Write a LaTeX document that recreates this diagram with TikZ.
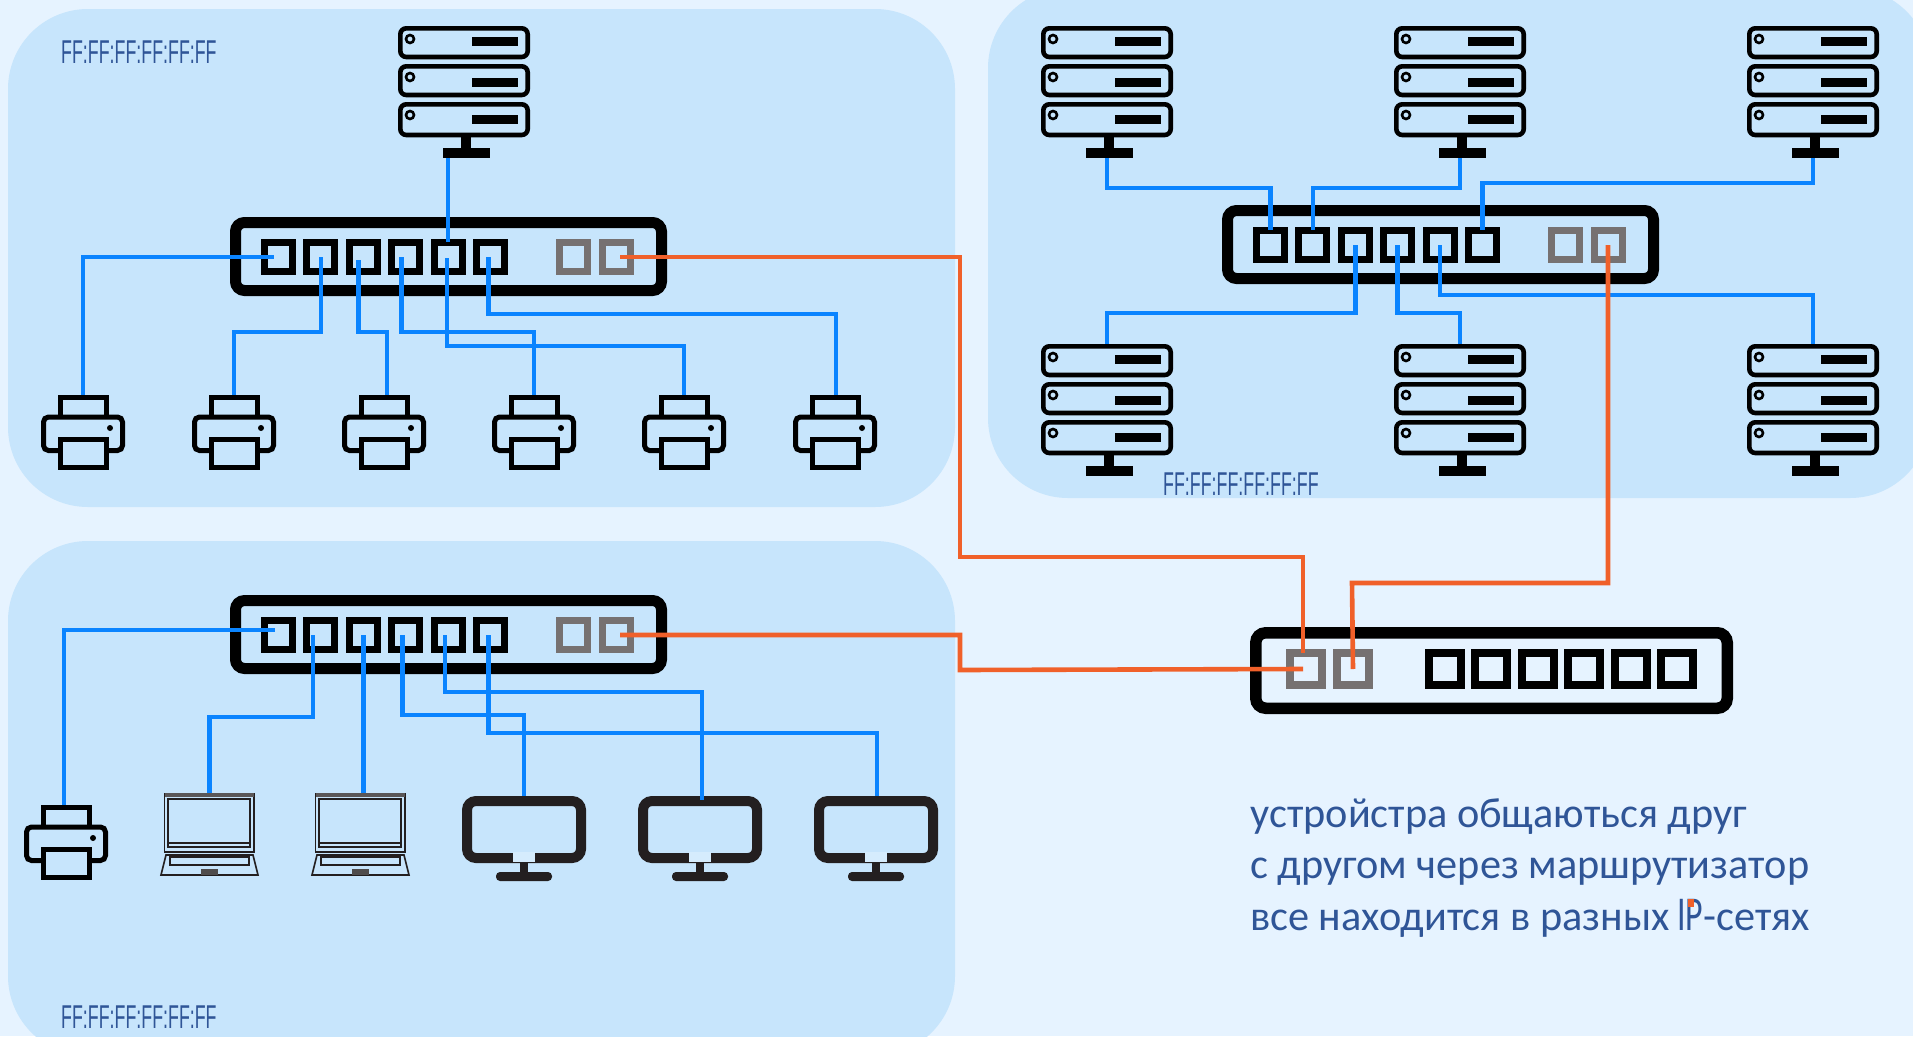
\documentclass[tikz,border=0pt]{standalone}
\usepackage{graphicx}
\usepackage{fontspec}
\setmainfont{Carlito}
\newfontfamily\macfont{Liberation Sans}
\usetikzlibrary{calc}
\definecolor{pagebg}{HTML}{E6F3FF}
\definecolor{panelbg}{HTML}{C7E5FC}
\definecolor{bluewire}{HTML}{0A84FF}
\definecolor{orangewire}{HTML}{F0602A}
\definecolor{portgray}{HTML}{767171}
\definecolor{textblue}{HTML}{2F5597}
\definecolor{dark}{HTML}{231F20}
\tikzset{
 x=1pt,y=-1pt,
 panel/.style={fill=panelbg,draw=none,rounded corners=80pt},
 devbox/.style={inner sep=0pt,outer sep=0pt,draw=none,fill=none,rectangle},
 port/.style={rectangle,draw=black,line width=7pt,inner sep=0pt,outer sep=0pt,minimum width=28pt,minimum height=29pt},
 gport/.style={port,draw=portgray},
 rport/.style={port,line width=8pt,minimum width=32pt,minimum height=32pt},
 rgport/.style={rport,draw=portgray},
 bw/.style={draw=bluewire,line width=4.6pt},
 ow/.style={draw=orangewire,line width=4.6pt},
 maclabel/.style={inner sep=0pt,text=textblue,anchor=base west,font=\macfont\fontsize{33}{33}\selectfont},
 bodytext/.style={inner sep=0pt,text=textblue,anchor=base west,font=\fontsize{42.3}{42.3}\selectfont},
 server/.pic={
  \node[devbox,minimum width=132pt,minimum height=132pt] (-box) at (66,66) {};
  \foreach \ty/\by in {0/11,38/52,76/89}{
   \draw[line width=4.6pt,rounded corners=6pt] (2.3,{\ty+2.3}) rectangle (129.7,{\ty+31+(\ty==76?2:0)});
   \draw[line width=2.6pt] (12,{\ty+13}) circle[radius=4];
   \fill (74,\by) rectangle (120,{\by+8.5});
  }
  \fill (63,109) rectangle (73,122);
  \fill (45,122) rectangle (92,132);
 },
 printer/.pic={
  \node[devbox,minimum width=84pt,minimum height=75pt] (-box) at (42,37.5) {};
  \draw[line width=5pt] (19,22) |- (65,2.5) -- (65,22);
  \draw[line width=5pt,rounded corners=5pt] (19,55.5) -- (2.5,55.5) -- (2.5,22) -- (81.5,22) -- (81.5,55.5) -- (65,55.5);
  \draw[line width=5pt] (19,44) rectangle (65,72.5);
  \fill (69,33) circle[radius=3];
 },
 laptop/.pic={
  \node[devbox,minimum width=99pt,minimum height=83pt] (-box) at (49.5,41.5) {};
  \draw[dark,line width=1.8pt] (4.5,0.8) rectangle (94,59);
  \draw[dark,line width=1.8pt] (8,6) rectangle (90,54);
  \draw[dark,line width=1.2pt] (8,50) -- (90,50);
  \fill[dark!75] (4.5,0) rectangle (94,4);
  \draw[dark,line width=1.6pt] (6,62) -- (1,82) -- (98,82) -- (93,62) -- cycle;
  \draw[dark,line width=1.4pt] (10,64) rectangle (89,72);
  \fill[dark!80] (41,76) rectangle (58,82);
 },
 monitor/.pic={
  \node[devbox,minimum width=124pt,minimum height=85pt] (-box) at (62,42.5) {};
  \draw[dark,line width=10pt,rounded corners=9pt] (5,5) rectangle (119,62);
  \fill[panelbg!75!white] (51,56) rectangle (73,66);
  \fill[dark] (58,67) rectangle (66,78);
  \fill[dark,rounded corners=4pt] (34,76) rectangle (90,85);
 },
 netswitch/.pic={
  \node[devbox,minimum width=437pt,minimum height=79pt] (-box) at (218.5,39.5) {};
  \draw[line width=11pt,rounded corners=9pt] (5.5,5.5) rectangle (431.5,73.5);
  \foreach \i in {1,...,6}{\node[port] (-p\i) at ({48.5+42.4*(\i-1)},40) {};}
  \node[gport] (-g1) at (343.5,40) {};
  \node[gport] (-g2) at (386,40) {};
 }
}
\begin{document}
\begin{tikzpicture}
\useasboundingbox (0,0) rectangle (1913,1036);
\fill[pagebg] (0,0) rectangle (1913,1036);
\begin{scope}
\clip (0,0) rectangle (1913,1036);
\fill[panel] (8,9) rectangle (955,507);
\fill[panel] (988,-12) rectangle (1930,498);
\fill[panel] (8,541) rectangle (955,1056);
\end{scope}

\pic (srvA) at (398,26) {server};
\pic (srvB1) at (1041,26) {server};
\pic (srvB2) at (1394,26) {server};
\pic (srvB3) at (1747,26) {server};
\pic (srvB4) at (1041,344) {server};
\pic (srvB5) at (1394,344) {server};
\pic (srvB6) at (1747,344) {server};

\pic (prA1) at (41,395) {printer};
\pic (prA2) at (192,395) {printer};
\pic (prA3) at (342,395) {printer};
\pic (prA4) at (492,395) {printer};
\pic (prA5) at (642,395) {printer};
\pic (prA6) at (793,395) {printer};
\pic (prC1) at (24,805) {printer};
\pic (lapC1) at (160,793) {laptop};
\pic (lapC2) at (311,793) {laptop};
\pic (monC1) at (462,796) {monitor};
\pic (monC2) at (638,796) {monitor};
\pic (monC3) at (814,796) {monitor};

\pic (swA) at (230,217) {netswitch};
\pic (swB) at (1222,205) {netswitch};
\pic (swC) at (230,595) {netswitch};

% router
\node[devbox,minimum width=483pt,minimum height=87pt] (router) at (1491.5,670.5) {};
\draw[line width=11.5pt,rounded corners=10pt] (1255.75,632.75) rectangle (1727.25,708.25);
\node[rgport] (rg1) at (1306,669) {};
\node[rgport] (rg2) at (1353,669) {};
\foreach \i in {1,...,6}{\node[rport] (rp\i) at ({1445+46.4*(\i-1)},669) {};}

% panel A wires
\draw[bw] (srvA-box.south -| swA-p5.center) -- ([yshift=15pt]swA-p5.center);
\draw[bw] ([xshift=-5pt]swA-p1.center) -| (prA1-box.north);
\draw[bw] (swA-p2.center) -- ++(0,75) -| (prA2-box.north);
\draw[bw] ([xshift=-5pt,yshift=-3pt]swA-p3.center) -- ++(0,72) -| ([xshift=3pt]prA3-box.north);
\draw[bw] ([xshift=-4pt]swA-p4.center) -- ++(0,75) -| (prA4-box.north);
\draw[bw] ([xshift=-1pt,yshift=-1pt]swA-p5.center) -- ++(0,88) -| (prA5-box.north);
\draw[bw] ([xshift=-2pt]swA-p6.center) -- ++(0,57) -| ([xshift=1pt]prA6-box.north);

% panel B wires
\draw[bw] (srvB1-box.south) -- ++(0,30) -| ([yshift=15pt]swB-p1.center);
\draw[bw] (srvB2-box.south) -- ++(0,30) -| ([yshift=15pt]swB-p2.center);
\draw[bw] (srvB3-box.south) -- ++(0,25) -| ([yshift=15pt]swB-p6.center);
\draw[bw] (srvB4-box.north) -- ++(0,-31) -| (swB-p3.center);
\draw[bw] (srvB5-box.north) -- ++(0,-31) -| (swB-p4.center);
\draw[bw] (srvB6-box.north) -- ++(0,-49) -| (swB-p5.center);

% panel C wires
\draw[bw] ([xshift=-4pt,yshift=5pt]swC-p1.center) -| ([xshift=-2pt]prC1-box.north);
\draw[bw] ([xshift=-8pt]swC-p2.center) -- ++(0,82) -| (lapC1-box.north);
\draw[bw] (swC-p3.center) -- (lapC2-box.north -| swC-p3.center);
\draw[bw] ([xshift=-3pt]swC-p4.center) -- ++(0,80) -| (monC1-box.north);
\draw[bw] ([xshift=-3pt]swC-p5.center) -- ++(0,57) -| ([xshift=2pt,yshift=-4pt]monC2-box.north);
\draw[bw] ([xshift=-2pt]swC-p6.center) -- ++(0,98) -| ([xshift=1pt]monC3-box.north);

% orange wires
\draw[ow] ([xshift=4pt]swA-g2.center) -- (960,257) -- (960,557) -- (1303,557) -- ([xshift=-3pt,yshift=16pt]rg1.center);
\draw[ow] ([xshift=4pt]swC-g2.center) -- (960,635) -- (960,670) -- ([xshift=-3pt]rg1.center);
\draw[ow] (swB-g2.center) -- (1608,583) -- (1352,583) -- (rg2.center);

% labels
\node[maclabel] (macA) at (61,63) {\scalebox{.54}[1]{FF:FF:FF:FF:FF:FF}};
\node[maclabel] (macB) at (1163,495) {\scalebox{.54}[1]{FF:FF:FF:FF:FF:FF}};
\node[maclabel] (macC) at (61,1028) {\scalebox{.54}[1]{FF:FF:FF:FF:FF:FF}};
\node[bodytext] (t1) at (1250,827) {устройстра общаються друг};
\node[bodytext] (t2) at (1250,878) {с другом через маршрутизатор};
\node[bodytext] (t3) at (1250,930) {все находится в разных \kern-2pt\scalebox{.8}[1.15]{IP}-сетях};
\fill[orangewire] (1688,899) rectangle (1694,907);
\end{tikzpicture}
\end{document}
